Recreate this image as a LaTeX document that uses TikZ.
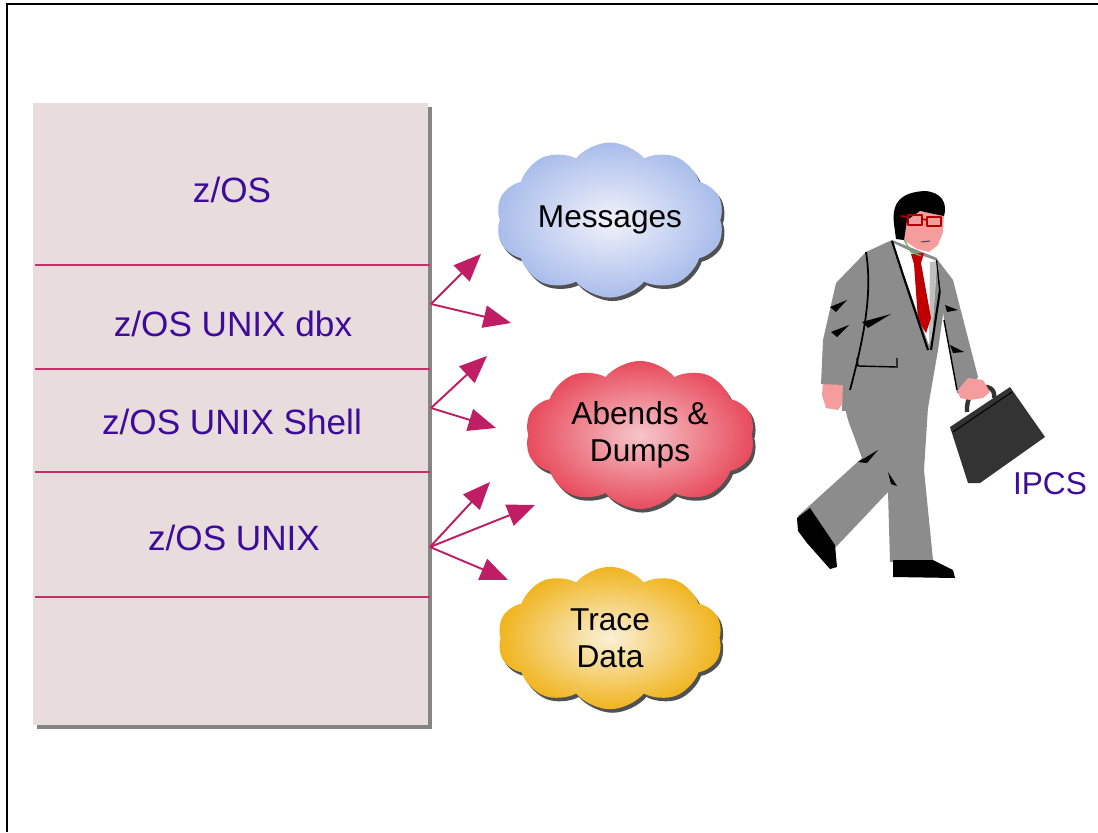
\documentclass[tikz,border=0pt]{standalone}
\usepackage{fontspec}
\setmainfont{Liberation Sans}
\usetikzlibrary{shapes.symbols,shadows,arrows.meta}

\definecolor{boxfill}{HTML}{E8DCDD}
\definecolor{layerline}{HTML}{C2306C}
\definecolor{flowred}{HTML}{C01E64}
\definecolor{osblue}{HTML}{3D0C9A}
\definecolor{suitgray}{HTML}{8C8C8C}
\definecolor{skin}{HTML}{F59C9C}
\definecolor{tiered}{HTML}{C00000}
\definecolor{casegray}{HTML}{333333}
\definecolor{msgin}{HTML}{F2F2FB}
\definecolor{msgout}{HTML}{A9BDEB}
\definecolor{dumpin}{HTML}{F6C6CB}
\definecolor{dumpout}{HTML}{E84B5C}
\definecolor{tracein}{HTML}{FBF1D8}
\definecolor{traceout}{HTML}{F0B41E}

\begin{document}
\begin{tikzpicture}[
  x=0.02cm, y=-0.02cm,
  flow/.style={draw=flowred, line width=1.1pt, -{Triangle[length=5.5mm,width=4.5mm]}},
  layer/.style={draw=layerline, line width=0.8pt},
  layertext/.style={text=osblue, font=\fontsize{20}{24}\selectfont},
  bubble/.style={cloud, cloud puffs=10, cloud puff arc=100, aspect=1.7,
    minimum width=4.5cm, minimum height=2.7cm, align=center,
    font=\fontsize{18}{21}\selectfont,
    drop shadow={shadow xshift=1.5pt, shadow yshift=-2pt, fill=black!85, opacity=.8}},
  suit/.style={fill=suitgray},
  crease/.style={fill=black}
]
  \useasboundingbox (0,0) rectangle (1098,832);
  \draw[line width=1.1pt] (7,832) -- (7,4) -- (1098,4);

  \node[fill=boxfill, minimum width=7.9cm, minimum height=12.44cm, anchor=north west,
    drop shadow={shadow xshift=2pt, shadow yshift=-2pt, fill=black!60, opacity=.8}] (stack) at (33,103) {};
  \foreach \ly in {265,369,472,597}
    \draw[layer] (35,\ly) -- (430,\ly);

  \node[layertext] (zos) at (232,190) {z/OS};
  \node[layertext] (dbx) at (233,324) {z/OS UNIX dbx};
  \node[layertext] (shell) at (232,422) {z/OS UNIX Shell};
  \node[layertext] (unix) at (234,538) {z/OS UNIX};

  \node[bubble, inner color=msgin, outer color=msgout] (msg) at (610,220) {Messages};
  \node[bubble, inner color=dumpin, outer color=dumpout, minimum width=4.6cm] (dumps) at (640,435) {Abends \&\\Dumps};
  \node[bubble, inner color=tracein, outer color=traceout, minimum height=2.85cm] (trace) at (610,638) {Trace\\Data};

  \coordinate (o1) at (431,304);
  \coordinate (o2) at (431,408);
  \coordinate (o3) at (430,547);
  \coordinate (t1) at (481,254);
  \coordinate (t2) at (511,323);
  \coordinate (t3) at (487,356);
  \coordinate (t4) at (496,428);
  \coordinate (t5) at (490,482);
  \coordinate (t6) at (535,505);
  \coordinate (t7) at (508,580);
  \foreach \a/\b in {o1/t1,o1/t2,o2/t3,o2/t4,o3/t5,o3/t6,o3/t7}
    \draw[flow] (\a) -- (\b);

  % walking man with briefcase
  \begin{scope}[line join=round]
    \fill[suit] (845,408) -- (928,407) -- (924,470) -- (933,560) -- (890,562) -- (888,492)
      -- (835,548) -- (798,516) -- (862,458) -- (848,420) -- cycle;
    \fill[crease] (858,462) -- (878,450) -- (867,463) -- cycle;
    \fill[crease] (888,472) -- (897,486) -- (891,484) -- cycle;
    \fill[black] (797,518) -- (810,508) -- (835,545) -- (837,567) -- (830,569) -- (807,543) -- (798,531) -- cycle;
    \fill[black] (893,560) -- (933,560) -- (953,570) -- (955,578) -- (893,577) -- cycle;
    \fill[skin] (823,383) -- (843,385) -- (845,400) -- (838,410) -- (826,408) -- (822,395) -- cycle;
    \fill[suit] (866,252) -- (892,240) -- (937,258) -- (945,300) -- (938,350) -- (928,408)
      -- (842,411) -- (843,385) -- (821,384) -- (823,340) -- (836,283) -- cycle;
    \fill[white] (893,243) -- (912,252) -- (937,261) -- (932,335) -- (929,345) -- (920,320) -- cycle;
    \fill[black!25] (930,262) -- (937,261) -- (932,335) -- (929,345) -- cycle;
    \fill[tiered] (911,254) -- (924,253) -- (921,263) -- (931,318) -- (926,333) -- (918,320) -- (914,264) -- cycle;
    \draw[line width=1.2pt] (892,241) -- (903,275) -- (928,350);
    \draw[line width=1.2pt] (937,260) -- (940,290) -- (931,350);
    \draw[line width=0.8pt] (857,358) -- (858,366) -- (897,367) -- (897,358);
    \draw[line width=1pt] (866,252) .. controls (872,290) and (866,330) .. (850,390);
    \fill[crease] (830,307) -- (847,300) -- (836,312) -- cycle;
    \fill[crease] (831,332) -- (849,325) -- (837,337) -- cycle;
    \fill[crease] (862,322) -- (891,314) -- (868,328) -- cycle;
    \fill[suit] (937,259) -- (953,280) -- (978,377) -- (966,395) -- (957,393) -- (944,320) -- cycle;
    \draw[line width=0.8pt] (944,320) -- (957,390);
    \fill[crease] (945,305) -- (958,310) -- (947,312) -- cycle;
    \fill[crease] (950,345) -- (964,352) -- (953,353) -- cycle;
    \fill[casegray] (950,427) -- (1010,387) -- (1045,437) -- (980,483) -- (968,483) -- cycle;
    \draw[black, line width=0.6pt] (953,432) -- (1012,392);
    \draw[casegray, line width=2.5pt] (967,412) .. controls (966,395) and (975,388) .. (987,387)
      .. controls (993,388) and (995,393) .. (994,398);
    \fill[skin] (958,390) -- (968,378) -- (983,380) -- (990,392) -- (983,398) -- (970,400) -- (960,398) -- cycle;
    \fill[skin] (904,210) -- (944,214) -- (943,232) -- (938,245) -- (929,252) -- (917,249) -- (905,241) -- (900,228) -- cycle;
    \draw[green!50!black!60, line width=0.7pt] (902,236) -- (911,252) -- (921,256);
    \fill[black] (894,224) .. controls (891,200) and (904,192) .. (925,191)
      .. controls (941,192) and (948,203) .. (944,216) -- (920,211) -- (907,220) -- (904,240) -- (896,239) -- cycle;
    \draw[red!70!black, line width=1pt] (908,215) rectangle (922,225) (927,217) rectangle (941,226)
      (922,219) -- (927,220) (908,217) -- (901,216);
    \draw[black!70, line width=0.6pt] (921,242) -- (930,241);
  \end{scope}

  \node[text=osblue, font=\fontsize{18}{22}\selectfont] (ipcs) at (1050,484) {IPCS};
\end{tikzpicture}
\end{document}
